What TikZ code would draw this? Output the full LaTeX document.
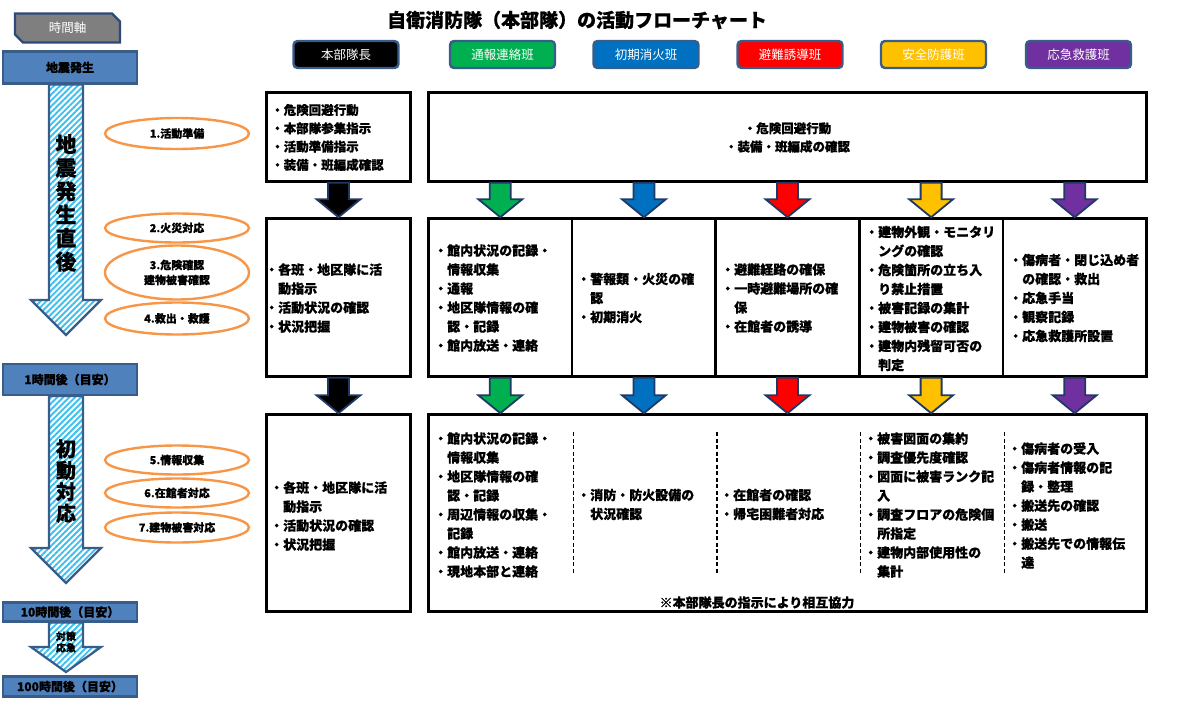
\documentclass[tikz,border=0pt]{standalone}
\usepackage{fontspec}
\setmainfont{Noto Sans CJK JP}[BoldFeatures={FakeBold=0.6}]
\usetikzlibrary{calc,shapes.geometric,shapes.misc,patterns.meta}

\definecolor{hdrline}{HTML}{385D8A}
\definecolor{tlline}{HTML}{385D8A}
\definecolor{tlfill}{HTML}{4F81BD}
\definecolor{axisgray}{HTML}{7F7F7F}
\definecolor{axisline}{HTML}{2B4A7A}
\definecolor{navyline}{HTML}{1F3864}
\definecolor{stripe}{HTML}{3CC0F0}
\definecolor{phaseorange}{HTML}{F79646}
\definecolor{teamgreen}{HTML}{00B050}
\definecolor{teamblue}{HTML}{0070C0}
\definecolor{teamred}{HTML}{FF0000}
\definecolor{teamyellow}{HTML}{FFC000}
\definecolor{teampurple}{HTML}{7030A0}

% block arrow pointing down: #1 start point, #2 tip point, #3 fill colour
\newcommand\blockdown[3]{%
  \draw[colarrow,fill=#3] let \p1=(#1), \p2=(#2) in
    (\x2-10.5pt,\y1) -- (\x2+10.5pt,\y1) -- (\x2+10.5pt,\y2+18pt)
    -- (\x2+22pt,\y2+18pt) -- (\x2,\y2) -- (\x2-22pt,\y2+18pt)
    -- (\x2-10.5pt,\y2+18pt) -- cycle;}

% hatched time-axis arrow: #1 node above, #2 tip coordinate, #3 head length
\newcommand\timearrow[3]{%
  \draw[tlarrow] let \p1=(#1.south), \p2=(#2) in
    (\x2-17pt,\y1) -- (\x2+17pt,\y1) -- (\x2+17pt,\y2+#3)
    -- (\x2+35pt,\y2+#3) -- (\x2,\y2) -- (\x2-35pt,\y2+#3)
    -- (\x2-17pt,\y2+#3) -- cycle;}

\begin{document}
\begin{tikzpicture}[x=1pt,y=-1pt,
  every node/.style={inner sep=0pt},
  box/.style={draw=black,line width=2.6pt,fill=white},
  hdr/.style={draw=hdrline,line width=2.4pt,rounded corners=4pt,
    minimum width=105pt,minimum height=27pt,text=white,
    font=\fontsize{12.5}{14}\selectfont},
  tlbox/.style={draw=tlline,fill=tlfill,line width=2.2pt,minimum width=134pt,
    font=\bfseries\fontsize{12}{14}\selectfont},
  phase/.style={ellipse,draw=phaseorange,line width=2.4pt,minimum width=144pt,
    align=center,font=\bfseries\fontsize{11}{15}\selectfont},
  cell/.style={anchor=west,align=left,font=\bfseries\fontsize{13}{19}\selectfont},
  colarrow/.style={draw=navyline,line width=1.8pt,line join=miter},
  tlarrow/.style={draw=tlline,line width=2.2pt,preaction={fill=white},
    pattern={Lines[angle=45,distance=4.2pt,line width=1.9pt]},pattern color=stripe},
  sep/.style={line width=1.4pt,dash pattern=on 4pt off 2.5pt}]

\useasboundingbox (0,0) rectangle (1186,704);

% ---------- title and team headers ----------
\node[font=\bfseries\fontsize{19}{22}\selectfont] (title) at (577,20)
  {自衛消防隊（本部隊）の活動フローチャート};
\node[hdr,fill=black]      (hd0) at (346,54.5)  {本部隊長};
\node[hdr,fill=teamgreen]  (hd1) at (502.5,54.5){通報連絡班};
\node[hdr,fill=teamblue]   (hd2) at (646,54.5)  {初期消火班};
\node[hdr,fill=teamred]    (hd3) at (790,54.5)  {避難誘導班};
\node[hdr,fill=teamyellow] (hd4) at (933.5,54.5){安全防護班};
\node[hdr,fill=teampurple] (hd5) at (1078.5,54.5){応急救護班};

% ---------- time axis ----------
\node[chamfered rectangle,chamfered rectangle corners={north east,south west},
  chamfered rectangle xsep=4pt,chamfered rectangle ysep=4pt,
  draw=axisline,fill=axisgray,line width=2.2pt,minimum width=105pt,
  minimum height=29pt,text=white,font=\fontsize{12.5}{14}\selectfont]
  (axis) at (67.5,28) {時間軸};

\node[tlbox,minimum height=32pt] (ev0)   at (70,67.5)  {地震発生};
\node[tlbox,minimum height=31pt] (ev1)   at (70,379.5) {1時間後（目安）};
\node[tlbox,minimum height=19pt] (ev10)  at (70,612)   {10時間後（目安）};
\node[tlbox,minimum height=20pt] (ev100) at (70,686.5) {100時間後（目安）};

\coordinate (tip1) at (66,335);
\coordinate (tip2) at (66,583);
\coordinate (tip3) at (66,672);
\timearrow{ev0}{tip1}{35pt}
\timearrow{ev1}{tip2}{35pt}
\timearrow{ev10}{tip3}{25pt}

\node[align=center,font=\bfseries\fontsize{21}{23.5}\selectfont] (ph1) at (66,203)
  {地\\震\\発\\生\\直\\後};
\node[align=center,font=\bfseries\fontsize{20}{21.5}\selectfont] (ph2) at (66,481)
  {初\\動\\対\\応};
\node[align=center,font=\bfseries\fontsize{10}{11.5}\selectfont] (ph3) at (66,642)
  {対策\\応急};

% ---------- phase ellipses ----------
\node[phase,minimum height=31pt] (e1) at (177,133.5) {1.活動準備};
\node[phase,minimum height=29pt] (e2) at (177,228)   {2.火災対応};
\node[phase,minimum height=54pt] (e3) at (177,272.5) {3.危険確認\\建物被害確認};
\node[phase,minimum height=32pt] (e4) at (177,318.5) {4.救出・救護};
\node[phase,minimum height=29pt] (e5) at (177,460)   {5.情報収集};
\node[phase,minimum height=29pt] (e6) at (177,493)   {6.在館者対応};
\node[phase,minimum height=30pt] (e7) at (177,527.5) {7.建物被害対応};

% ---------- row 1 ----------
\node[box,minimum width=144pt,minimum height=89pt] (r1L) at (338.5,137) {};
\node[box,minimum width=718pt,minimum height=89pt] (r1B) at (787.5,137) {};
\node[cell,font=\bfseries\fontsize{12.5}{18.3}\selectfont] at (271,137.5)
  {・危険回避行動\\・本部隊参集指示\\・活動準備指示\\・装備・班編成確認};
\node[align=center,font=\bfseries\fontsize{12.5}{18.3}\selectfont] at (787.5,137.5)
  {・危険回避行動\\・装備・班編成の確認};

% ---------- row 2 ----------
\node[box,minimum width=144pt,minimum height=158pt] (r2L) at (338.5,297.5) {};
\node[box,minimum width=143.6pt,minimum height=158pt] (r2c1) at (500.3,297.5) {};
\node[box,minimum width=143.6pt,minimum height=158pt] (r2c2) at (643.9,297.5) {};
\node[box,minimum width=143.6pt,minimum height=158pt] (r2c3) at (787.5,297.5) {};
\node[box,minimum width=143.6pt,minimum height=158pt] (r2c4) at (931.1,297.5) {};
\node[box,minimum width=143.6pt,minimum height=158pt] (r2c5) at (1074.7,297.5) {};

\node[cell] at (265,298) {・各班・地区隊に活\\\hspace*{1em}動指示\\・活動状況の確認\\・状況把握};
\node[cell] at (434,298) {・館内状況の記録・\\\hspace*{1em}情報収集\\・通報\\・地区隊情報の確\\\hspace*{1em}認・記録\\・館内放送・連絡};
\node[cell] at (577,298) {・警報類・火災の確\\\hspace*{1em}認\\・初期消火};
\node[cell] at (721,298) {・避難経路の確保\\・一時避難場所の確\\\hspace*{1em}保\\・在館者の誘導};
\node[cell] at (865,298.5) {・建物外観・モニタリ\\\hspace*{1em}ングの確認\\・危険箇所の立ち入\\\hspace*{1em}り禁止措置\\・被害記録の集計\\・建物被害の確認\\・建物内残留可否の\\\hspace*{1em}判定};
\node[cell] at (1009,298) {・傷病者・閉じ込め者\\\hspace*{1em}の確認・救出\\・応急手当\\・観察記録\\・応急救護所設置};

% ---------- row 3 ----------
\node[box,minimum width=144pt,minimum height=197pt] (r3L) at (338.5,513) {};
\node[box,minimum width=718pt,minimum height=197pt] (r3B) at (787.5,513) {};

\foreach \c in {r2c1,r2c2,r2c3,r2c4}
  \draw[sep] (r3B.north -| \c.east) ++(0,19) -- ++(0,141);

\node[cell] at (270,516) {・各班・地区隊に活\\\hspace*{1em}動指示\\・活動状況の確認\\・状況把握};
\node[cell] at (434,505) {・館内状況の記録・\\\hspace*{1em}情報収集\\・地区隊情報の確\\\hspace*{1em}認・記録\\・周辺情報の収集・\\\hspace*{1em}記録\\・館内放送・連絡\\・現地本部と連絡};
\node[cell] at (577,504.5) {・消防・防火設備の\\\hspace*{1em}状況確認};
\node[cell] at (720,504.5) {・在館者の確認\\・帰宅困難者対応};
\node[cell] at (864,505) {・被害図面の集約\\・調査優先度確認\\・図面に被害ランク記\\\hspace*{1em}入\\・調査フロアの危険個\\\hspace*{1em}所指定\\・建物内部使用性の\\\hspace*{1em}集計};
\node[cell] at (1008,505.5) {・傷病者の受入\\・傷病者情報の記\\\hspace*{1em}録・整理\\・搬送先の確認\\・搬送\\・搬送先での情報伝\\\hspace*{1em}達};
\node[font=\bfseries\fontsize{13}{16}\selectfont] (note) at (757,602.5)
  {※本部隊長の指示により相互協力};

% ---------- flow arrows between rows ----------
\blockdown{r1L.south}{r2L.north}{black}
\blockdown{r1B.south -| r2c1.north}{r2c1.north}{teamgreen}
\blockdown{r1B.south -| r2c2.north}{r2c2.north}{teamblue}
\blockdown{r1B.south -| r2c3.north}{r2c3.north}{teamred}
\blockdown{r1B.south -| r2c4.north}{r2c4.north}{teamyellow}
\blockdown{r1B.south -| r2c5.north}{r2c5.north}{teampurple}

\blockdown{r2L.south}{r3L.north}{black}
\blockdown{r2c1.south}{r3B.north -| r2c1.south}{teamgreen}
\blockdown{r2c2.south}{r3B.north -| r2c2.south}{teamblue}
\blockdown{r2c3.south}{r3B.north -| r2c3.south}{teamred}
\blockdown{r2c4.south}{r3B.north -| r2c4.south}{teamyellow}
\blockdown{r2c5.south}{r3B.north -| r2c5.south}{teampurple}

\end{tikzpicture}
\end{document}
